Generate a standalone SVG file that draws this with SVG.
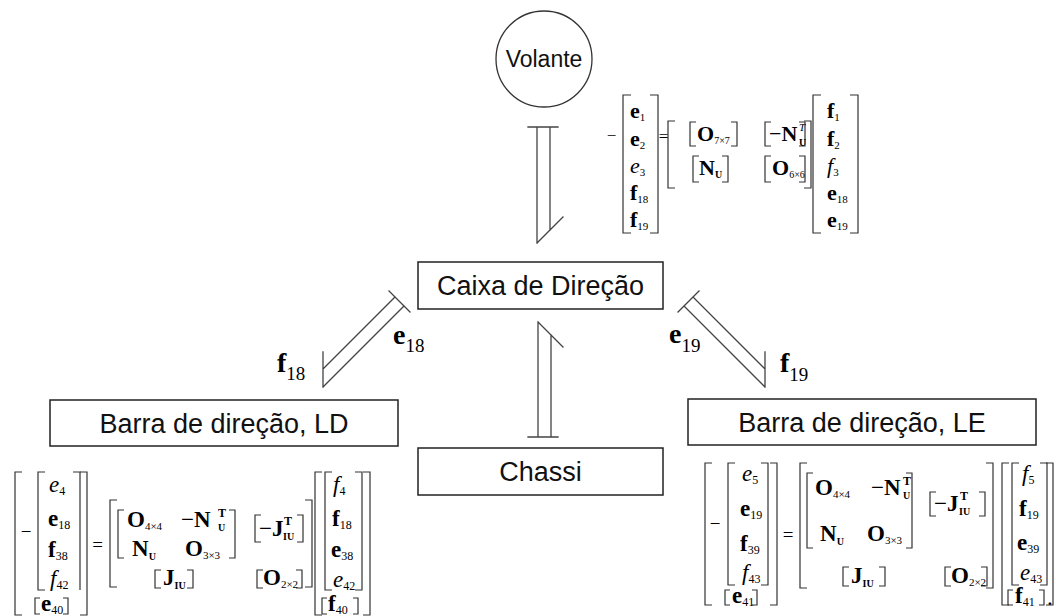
<svg xmlns="http://www.w3.org/2000/svg" width="1056" height="616" viewBox="0 0 1056 616">
  <style>
    .box { fill: #fff; stroke: #222; stroke-width: 1.5; }
    .lbl { font-family: "Liberation Sans", Arial, sans-serif; font-size: 27px; fill: #111; text-anchor: middle; }
    .bond { fill: none; stroke: #444; stroke-width: 1.3; stroke-linecap: square; }
    .br { fill: none; stroke: #333; stroke-width: 1.2; }
    .m { font-family: "Liberation Serif", "Times New Roman", serif; fill: #000; }
    .t { font-size: 22px; }
    .w { font-size: 23px; }
    .bd { font-weight: bold; }
    .it { font-style: italic; }
    .s1 { font-size: 11px; }
    .s2 { font-size: 12px; }
    .s0 { font-size: 10px; }
    .bl { font-size: 28px; font-weight: bold; }
    .bn { font-size: 19px; }
    .op { font-size: 19px; text-anchor: middle; }
  </style>

  <!-- nodes -->
  <g id="volante">
    <circle cx="544" cy="59" r="48" fill="#fff" stroke="#333" stroke-width="1.3"/>
    <text class="lbl" x="544" y="67" style="font-size:23px">Volante</text>
  </g>
  <g id="caixa">
    <rect class="box" x="418" y="262" width="245" height="47"/>
    <text class="lbl" x="540.5" y="295">Caixa de Direção</text>
  </g>
  <g id="barra-ld">
    <rect class="box" x="50" y="400" width="348" height="46"/>
    <text class="lbl" x="224" y="433">Barra de direção, LD</text>
  </g>
  <g id="barra-le">
    <rect class="box" x="688" y="399" width="348" height="46"/>
    <text class="lbl" x="862" y="432">Barra de direção, LE</text>
  </g>
  <g id="chassi">
    <rect class="box" x="418" y="448" width="245" height="47"/>
    <text class="lbl" x="540.5" y="481">Chassi</text>
  </g>

  <!-- bonds: double line, half arrow, causal stroke -->
  <g id="connectors" class="bond">
    <!-- Volante to Caixa -->
    <path d="M528 127 H558 M537 127 V243 M550 127 V230 M537 243 L563 217"/>
    <!-- Chassi to Caixa -->
    <path d="M528 437 H558 M538 437 V322 M551 437 V335 M538 322 L563 347"/>
    <!-- Caixa to Barra LD -->
    <path d="M389 291 L410 312 M404 306 L323 387 M395 297 L323 369 M323 387 V352"/>
    <!-- Caixa to Barra LE -->
    <path d="M678 312 L699 291 M684 306 L765 387 M693 297 L765 369 M765 387 V352"/>
  </g>

  <!-- bond variables -->
  <g id="bond-labels" class="m">
    <text x="277" y="372"><tspan class="bl">f</tspan><tspan class="bn" dy="8">18</tspan></text>
    <text x="393" y="344"><tspan class="bl">e</tspan><tspan class="bn" dy="8">18</tspan></text>
    <text x="669" y="343"><tspan class="bl">e</tspan><tspan class="bn" dy="9">19</tspan></text>
    <text x="780" y="372"><tspan class="bl">f</tspan><tspan class="bn" dy="9">19</tspan></text>
  </g>

  <!-- constitutive relation of the steering box -->
  <g id="eq-caixa" class="m">
    <path class="br" d="M631 95 H623 V233 H631 M650 95 H658 V233 H650"/>
    <path class="br" d="M675 121 H668 V188 H675 M804 121 H811 V188 H804"/>
    <path class="br" d="M696 122 H690 V146 H696 M731 122 H737 V146 H731"/>
    <path class="br" d="M771 122 H765 V146 H771 M799 122 H805 V146 H799"/>
    <path class="br" d="M699 156 H693 V182 H699 M722 156 H728 V182 H722"/>
    <path class="br" d="M771 156 H765 V182 H771 M799 156 H805 V182 H799"/>
    <path class="br" d="M821 95 H813 V233 H821 M850 95 H858 V233 H850"/>

    <text class="op" x="611.5" y="141" style="font-size:17px">−</text>
    <text class="t" x="630" y="118"><tspan class="bd">e</tspan><tspan class="s1" dy="3">1</tspan></text>
    <text class="t" x="630" y="146"><tspan class="bd">e</tspan><tspan class="s1" dy="3">2</tspan></text>
    <text class="t" x="630" y="173"><tspan class="it">e</tspan><tspan class="s1" dy="3">3</tspan></text>
    <text class="t" x="630" y="200"><tspan class="bd">f</tspan><tspan class="s1" dy="3">18</tspan></text>
    <text class="t" x="630" y="227"><tspan class="bd">f</tspan><tspan class="s1" dy="3">19</tspan></text>

    <text class="op" x="663.5" y="142" style="font-size:17px">=</text>

    <text class="t" x="697" y="141"><tspan class="bd">O</tspan><tspan class="s0" dy="3">7×7</tspan></text>
    <text class="t" x="769" y="141">−<tspan class="bd">N</tspan></text>
    <text class="s1 it" x="799" y="131">T</text>
    <text class="s0 bd" x="799" y="146">U</text>
    <text class="t" x="699" y="175"><tspan class="bd">N</tspan><tspan class="s0 bd" dy="3">U</tspan></text>
    <text class="t" x="772" y="175"><tspan class="bd">O</tspan><tspan class="s0" dy="3">6×6</tspan></text>

    <text class="t" x="827" y="118"><tspan class="bd">f</tspan><tspan class="s1" dy="3">1</tspan></text>
    <text class="t" x="827" y="146"><tspan class="bd">f</tspan><tspan class="s1" dy="3">2</tspan></text>
    <text class="t" x="827" y="173"><tspan class="it">f</tspan><tspan class="s1" dy="3">3</tspan></text>
    <text class="t" x="827" y="200"><tspan class="bd">e</tspan><tspan class="s1" dy="3">18</tspan></text>
    <text class="t" x="827" y="227"><tspan class="bd">e</tspan><tspan class="s1" dy="3">19</tspan></text>
  </g>

  <!-- constitutive relation of the right-hand tie rod (LD) -->
  <g id="eq-ld" class="m">
    <path class="br" d="M22 472 H15 V615 H22 M80 472 H87 V615 H80"/>
    <path class="br" d="M45 472 H38 V590 H45 M73 472 H80 V590"/>
    <path class="br" d="M40 598 H35 V614 H40 M63 598 H68 V614 H63"/>
    <path class="br" d="M117 500 H110 V587 H117 M305 500 H312 V587 H305"/>
    <path class="br" d="M124 510 H118 V558 H124 M229 510 H235 V558 H229"/>
    <path class="br" d="M261 515 H255 V542 H261 M297 515 H303 V542 H297"/>
    <path class="br" d="M161 570 H155 V588 H161 M187 570 H193 V588 H187"/>
    <path class="br" d="M263 570 H257 V588 H263 M296 570 H302 V588 H296"/>
    <path class="br" d="M322 472 H315 V615 H322 M363 472 H370 V615 H363"/>
    <path class="br" d="M332 472 H325 V590 H332 M355 472 H362 V590 H355"/>
    <path class="br" d="M327 598 H322 V614 H327 M353 598 H358 V614 H353"/>

    <text class="op" x="26" y="538">−</text>
    <text class="w" x="49" y="492"><tspan class="it">e</tspan><tspan class="s2" dy="3">4</tspan></text>
    <text class="w" x="48" y="526"><tspan class="bd">e</tspan><tspan class="s2" dy="3">18</tspan></text>
    <text class="w" x="48" y="557"><tspan class="bd">f</tspan><tspan class="s2" dy="3">38</tspan></text>
    <text class="w" x="50" y="586"><tspan class="it">f</tspan><tspan class="s2" dy="3">42</tspan></text>
    <text class="w" x="41" y="611"><tspan class="bd">e</tspan><tspan class="s2" dy="3">40</tspan></text>

    <text class="op" x="97.5" y="551">=</text>

    <text class="w" x="127" y="527"><tspan class="bd">O</tspan><tspan class="s1" dy="3">4×4</tspan></text>
    <text class="w" x="181" y="527">−<tspan class="bd">N</tspan></text>
    <text class="s2 bd" x="218" y="517">T</text>
    <text class="s0 bd" x="218" y="531">U</text>
    <text class="w" x="132" y="556"><tspan class="bd">N</tspan><tspan class="s0 bd" dy="4">U</tspan></text>
    <text class="w" x="185" y="556"><tspan class="bd">O</tspan><tspan class="s1" dy="3">3×3</tspan></text>
    <text class="w" x="259" y="536">−<tspan class="bd">J</tspan></text>
    <text class="s2 bd" x="284" y="525">T</text>
    <text class="s0 bd" x="283" y="540">IU</text>
    <text class="w" x="163" y="585"><tspan class="bd">J</tspan><tspan class="s0 bd" dy="4">IU</tspan></text>
    <text class="w" x="263" y="585"><tspan class="bd">O</tspan><tspan class="s1" dy="3">2×2</tspan></text>

    <text class="w" x="333" y="492"><tspan class="it">f</tspan><tspan class="s2" dy="3">4</tspan></text>
    <text class="w" x="332" y="526"><tspan class="bd">f</tspan><tspan class="s2" dy="3">18</tspan></text>
    <text class="w" x="331" y="557"><tspan class="bd">e</tspan><tspan class="s2" dy="3">38</tspan></text>
    <text class="w" x="333" y="587"><tspan class="it">e</tspan><tspan class="s2" dy="3">42</tspan></text>
    <text class="w" x="328" y="611"><tspan class="bd">f</tspan><tspan class="s2" dy="3">40</tspan></text>
  </g>

  <!-- constitutive relation of the left-hand tie rod (LE) -->
  <g id="eq-le" class="m">
    <path class="br" d="M712 463 H705 V605 H712 M770 463 H777 V605 H770"/>
    <path class="br" d="M735 463 H728 V585 H735 M761 463 H768 V585 H761"/>
    <path class="br" d="M730 590 H725 V605 H730 M752 590 H757 V605 H752"/>
    <path class="br" d="M807 463 H800 V588 H807 M986 463 H993 V588 H986"/>
    <path class="br" d="M813 473 H807 V548 H813 M906 473 H912 V548 H906"/>
    <path class="br" d="M936 492 H930 V516 H936 M979 492 H985 V516 H979"/>
    <path class="br" d="M849 567 H843 V586 H849 M879 567 H885 V586 H879"/>
    <path class="br" d="M951 567 H945 V586 H951 M981 567 H987 V586 H981"/>
    <path class="br" d="M1009 463 H1002 V605 H1009 M1046 463 H1053 V605 H1046"/>
    <path class="br" d="M1019 463 H1012 V585 H1019 M1040 463 H1047 V585 H1040"/>
    <path class="br" d="M1013 590 H1008 V605 H1013 M1039 590 H1044 V605 H1039"/>

    <text class="op" x="715" y="530">−</text>
    <text class="w" x="742" y="481"><tspan class="it">e</tspan><tspan class="s2" dy="3">5</tspan></text>
    <text class="w" x="740" y="516"><tspan class="bd">e</tspan><tspan class="s2" dy="3">19</tspan></text>
    <text class="w" x="740" y="551"><tspan class="bd">f</tspan><tspan class="s2" dy="3">39</tspan></text>
    <text class="w" x="742" y="580"><tspan class="it">f</tspan><tspan class="s2" dy="3">43</tspan></text>
    <text class="w" x="732" y="603"><tspan class="bd">e</tspan><tspan class="s2" dy="3">41</tspan></text>

    <text class="op" x="788" y="541">=</text>

    <text class="w" x="815" y="495"><tspan class="bd">O</tspan><tspan class="s1" dy="3">4×4</tspan></text>
    <text class="w" x="871" y="495">−<tspan class="bd">N</tspan></text>
    <text class="s2 bd" x="903" y="485">T</text>
    <text class="s0 bd" x="903" y="499">U</text>
    <text class="w" x="820" y="541"><tspan class="bd">N</tspan><tspan class="s0 bd" dy="4">U</tspan></text>
    <text class="w" x="867" y="541"><tspan class="bd">O</tspan><tspan class="s1" dy="3">3×3</tspan></text>
    <text class="w" x="934" y="511">−<tspan class="bd">J</tspan></text>
    <text class="s2 bd" x="960" y="500">T</text>
    <text class="s0 bd" x="959" y="515">IU</text>
    <text class="w" x="851" y="583"><tspan class="bd">J</tspan><tspan class="s0 bd" dy="4">IU</tspan></text>
    <text class="w" x="951" y="583"><tspan class="bd">O</tspan><tspan class="s1" dy="3">2×2</tspan></text>

    <text class="w" x="1022" y="481"><tspan class="it">f</tspan><tspan class="s2" dy="3">5</tspan></text>
    <text class="w" x="1019" y="516"><tspan class="bd">f</tspan><tspan class="s2" dy="3">19</tspan></text>
    <text class="w" x="1017" y="550"><tspan class="bd">e</tspan><tspan class="s2" dy="3">39</tspan></text>
    <text class="w" x="1020" y="580"><tspan class="it">e</tspan><tspan class="s2" dy="3">43</tspan></text>
    <text class="w" x="1015" y="603"><tspan class="bd">f</tspan><tspan class="s2" dy="3">41</tspan></text>
    <text class="w" x="1047" y="605">.</text>
  </g>
</svg>
